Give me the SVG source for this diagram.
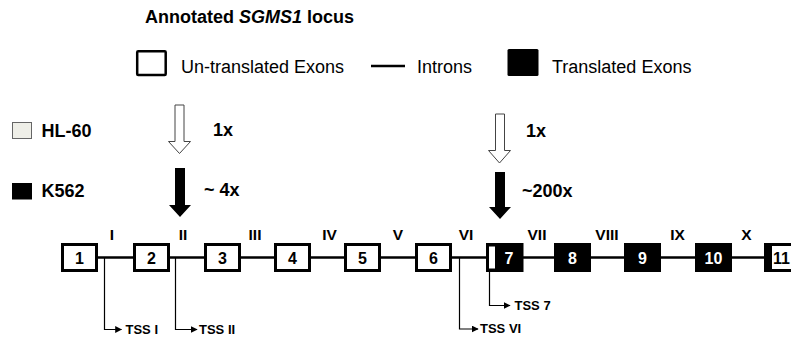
<svg xmlns="http://www.w3.org/2000/svg" width="791" height="339" viewBox="0 0 791 339">
<style>
text{font-family:"Liberation Sans",Arial,sans-serif;fill:#000}
.b{font-weight:bold}
.ex{fill:#fff;stroke:#000;stroke-width:3}
.exb{fill:#000;stroke:#000;stroke-width:3}
.num{font-weight:bold;font-size:16px;text-anchor:middle}
.rom{font-weight:bold;font-size:15.5px;text-anchor:middle}
.tss{fill:none;stroke:#000;stroke-width:1.2}
.tsst{font-weight:bold;font-size:13px}
.leg{font-size:18px}
</style>
<defs>
<marker id="ah" viewBox="0 0 10 10" refX="9" refY="5" markerWidth="7" markerHeight="7" markerUnits="userSpaceOnUse" orient="auto">
<path d="M0,0 L10,5 L0,10 z" fill="#000"/>
</marker>
</defs>

<g id="legend">
<text x="145" y="23" class="b" font-size="18">Annotated <tspan font-style="italic">SGMS1</tspan> locus</text>
<rect x="137.2" y="51.2" width="28.5" height="23.8" rx="1" fill="#fff" stroke="#000" stroke-width="2.5"/>
<text x="181" y="73" class="leg">Un-translated Exons</text>
<line x1="371" y1="66" x2="405" y2="66" stroke="#000" stroke-width="2.5"/>
<text x="417" y="73" class="leg">Introns</text>
<rect x="507.5" y="49" width="31" height="27" rx="1.5" fill="#000"/>
<text x="552" y="73" class="leg">Translated Exons</text>
</g>

<g id="cell-lines">
<rect x="12.5" y="122.5" width="19" height="16" fill="#efefe8" stroke="#666" stroke-width="1"/>
<text x="41.5" y="137" class="b" font-size="18">HL-60</text>
<rect x="12" y="183" width="20" height="16.5" fill="#000"/>
<text x="41.5" y="197" class="b" font-size="18">K562</text>
</g>

<g id="expression-arrows">
<polygon points="175,105 184,105 184,141.5 190.5,141.5 179.5,153.5 168.5,141.5 175,141.5" fill="#fff" stroke="#444" stroke-width="1"/>
<text x="213" y="136" class="b" font-size="18">1x</text>
<polygon points="175,168 185,168 185,205 191,205 180,217 169,205 175,205" fill="#000"/>
<text x="204" y="196" class="b" font-size="18">~ 4x</text>
<polygon points="495.5,114 504.5,114 504.5,150.5 510.5,150.5 499.5,163 488.5,150.5 495.5,150.5" fill="#fff" stroke="#444" stroke-width="1"/>
<text x="526" y="137" class="b" font-size="18">1x</text>
<polygon points="495,172 505,172 505,207 511,207 500,219 489,207 495,207" fill="#000"/>
<text x="522" y="197" class="b" font-size="18">~200x</text>
</g>

<g id="connectors">
<line x1="97" y1="257.5" x2="766" y2="257.5" stroke="#000" stroke-width="2.5"/>
<polyline class="tss" points="104.5,258 104.5,329.5 121.5,329.5" marker-end="url(#ah)"/>
<polyline class="tss" points="175.5,258 175.5,329.5 197,329.5" marker-end="url(#ah)"/>
<polyline class="tss" points="459.5,258 459.5,329 478,329" marker-end="url(#ah)"/>
<polyline class="tss" points="489.5,272 489.5,305.5 510,305.5" marker-end="url(#ah)"/>
</g>

<g id="exon-1"><rect class="ex" x="62.5" y="244.5" width="34" height="26"/><text class="num" x="79.5" y="264">1</text></g>
<g id="exon-2"><rect class="ex" x="134.5" y="244.5" width="34" height="26"/><text class="num" x="151.5" y="264">2</text></g>
<g id="exon-3"><rect class="ex" x="205.5" y="244.5" width="34" height="26"/><text class="num" x="222.5" y="264">3</text></g>
<g id="exon-4"><rect class="ex" x="275.5" y="244.5" width="34" height="26"/><text class="num" x="292.5" y="264">4</text></g>
<g id="exon-5"><rect class="ex" x="345.5" y="244.5" width="34" height="26"/><text class="num" x="362.5" y="264">5</text></g>
<g id="exon-6"><rect class="ex" x="416.5" y="244.5" width="34" height="26"/><text class="num" x="433.5" y="264">6</text></g>
<g id="exon-7"><rect class="exb" x="487.5" y="244.5" width="34.5" height="26"/><rect x="489" y="246.5" width="6" height="22" fill="#fff"/><text class="num" x="509" y="264" style="fill:#fff">7</text></g>
<g id="exon-8"><rect class="exb" x="555.5" y="244.5" width="34" height="26"/><text class="num" x="572.5" y="264" style="fill:#fff">8</text></g>
<g id="exon-9"><rect class="exb" x="625.5" y="244.5" width="34" height="26"/><text class="num" x="642.5" y="264" style="fill:#fff">9</text></g>
<g id="exon-10"><rect class="exb" x="696.5" y="244.5" width="34" height="26"/><text class="num" x="713.5" y="264" style="fill:#fff">10</text></g>
<g id="exon-11"><rect class="ex" x="765.5" y="244.5" width="40" height="26"/><rect x="764" y="243" width="8" height="29" fill="#000"/><text class="num" x="773" y="264" style="text-anchor:start">11</text></g>

<g id="intron-labels">
<text class="rom" x="112" y="240">I</text>
<text class="rom" x="183" y="240">II</text>
<text class="rom" x="255" y="240">III</text>
<text class="rom" x="329.5" y="240">IV</text>
<text class="rom" x="398" y="240">V</text>
<text class="rom" x="466" y="240">VI</text>
<text class="rom" x="537" y="240">VII</text>
<text class="rom" x="607" y="240">VIII</text>
<text class="rom" x="677.5" y="240">IX</text>
<text class="rom" x="746.5" y="240">X</text>
</g>

<g id="tss-labels">
<text class="tsst" x="125.5" y="333.5">TSS I</text>
<text class="tsst" x="199" y="333.5">TSS II</text>
<text class="tsst" x="480" y="333">TSS VI</text>
<text class="tsst" x="514.5" y="310">TSS 7</text>
</g>
</svg>
